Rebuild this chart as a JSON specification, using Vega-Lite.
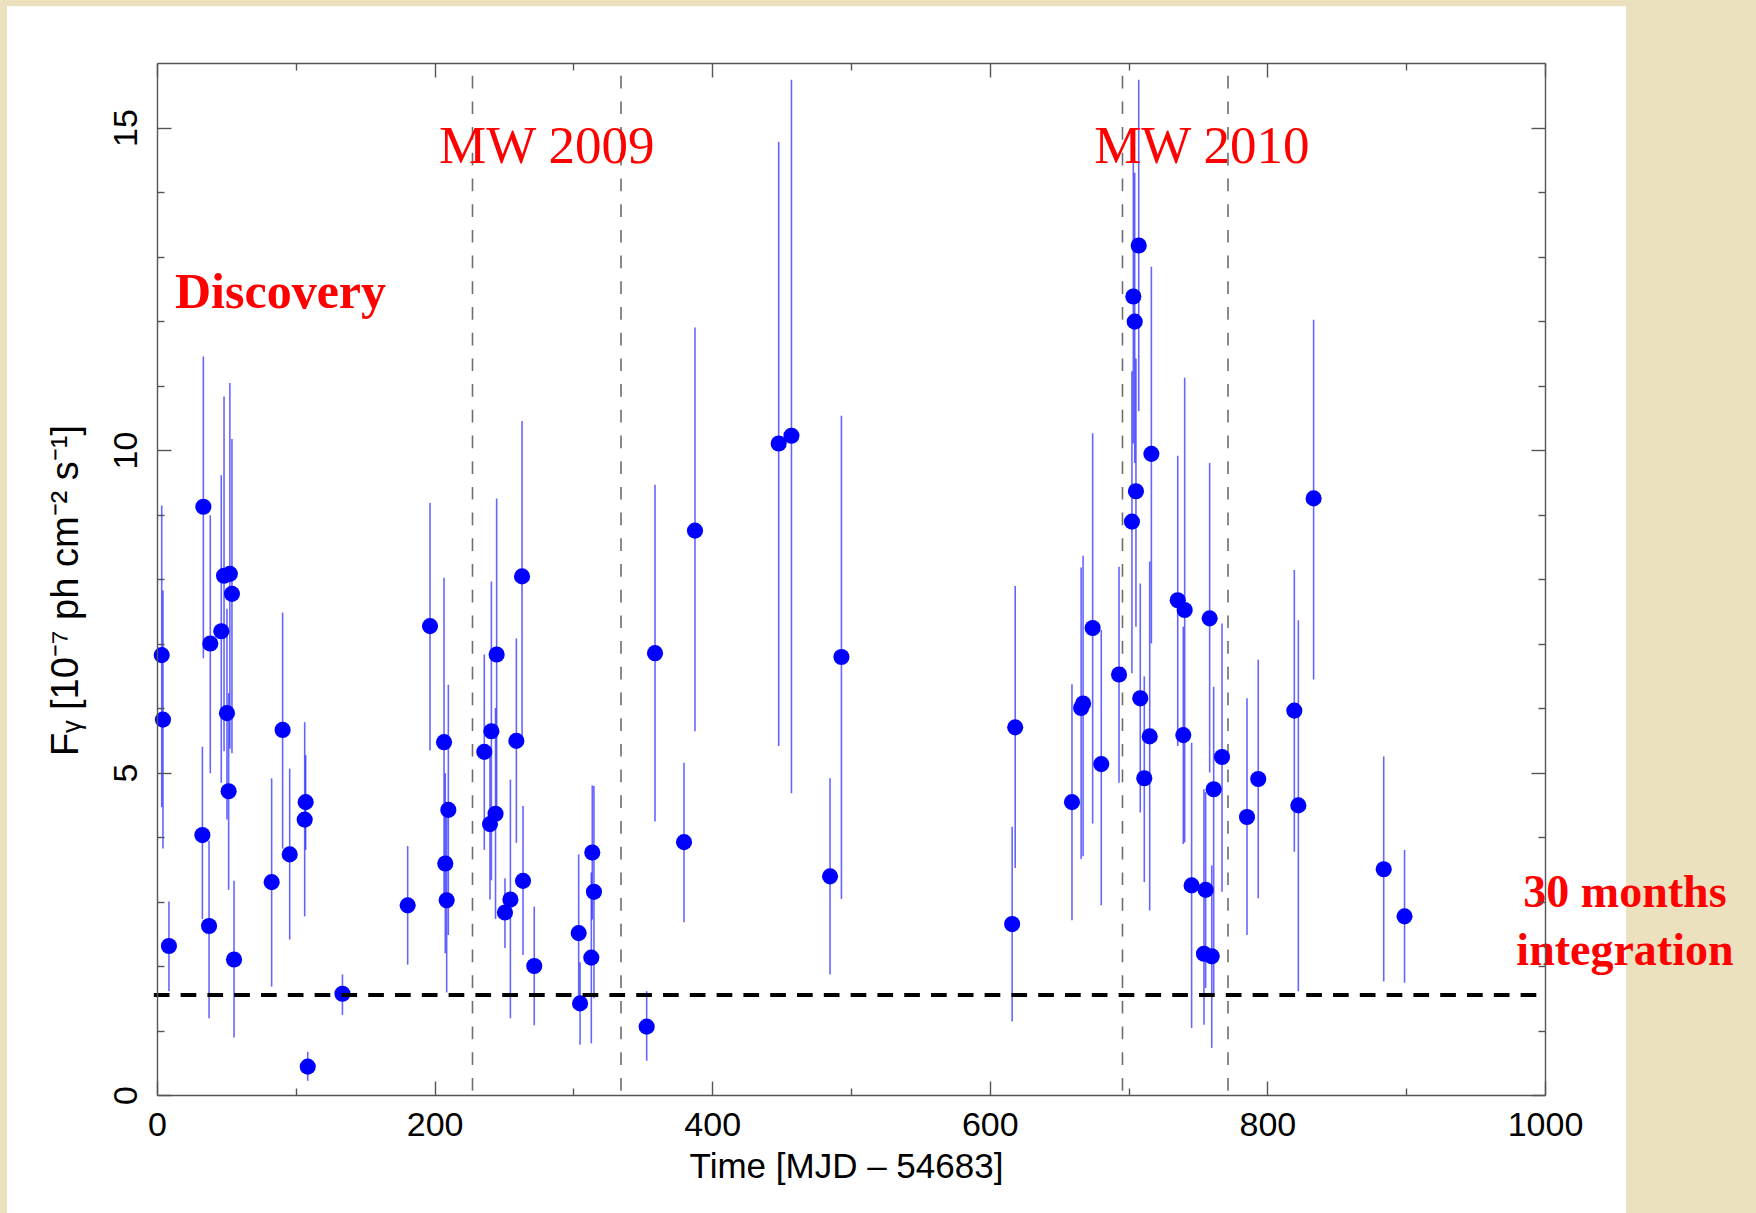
{
  "$schema": "https://vega.github.io/schema/vega-lite/v6.json",
  "width": 1388,
  "height": 1032,
  "autosize": {"type": "none"},
  "padding": {"left": 157, "top": 63, "right": 211, "bottom": 118},
  "background": "#ECE1BE",
  "config": {
    "view": {"stroke": null},
    "axis": {
      "grid": false,
      "domainColor": "#555555",
      "domainWidth": 1.4,
      "tickColor": "#555555",
      "tickWidth": 1.4,
      "labelFont": "Liberation Sans",
      "labelColor": "#000000",
      "titleFont": "Liberation Sans",
      "titleColor": "#000000",
      "titleFontWeight": "normal",
      "labelFlush": false,
      "labelOverlap": false
    }
  },
  "datasets": {
    "flux": [
      {"t": 3.4, "flux": 6.82, "flux_lo": 4.46, "flux_hi": 9.14},
      {"t": 4.3, "flux": 5.82, "flux_lo": 3.82, "flux_hi": 7.82},
      {"t": 8.6, "flux": 2.31, "flux_lo": 1.61, "flux_hi": 3.0},
      {"t": 33.4, "flux": 9.12, "flux_lo": 6.77, "flux_hi": 11.45},
      {"t": 32.7, "flux": 4.03, "flux_lo": 2.73, "flux_hi": 5.4},
      {"t": 38.4, "flux": 7.0, "flux_lo": 4.99, "flux_hi": 8.99},
      {"t": 37.5, "flux": 2.62, "flux_lo": 1.19, "flux_hi": 3.94},
      {"t": 46.3, "flux": 7.19, "flux_lo": 4.84, "flux_hi": 9.61},
      {"t": 48.3, "flux": 8.05, "flux_lo": 5.33, "flux_hi": 10.83},
      {"t": 52.5, "flux": 8.08, "flux_lo": 5.37, "flux_hi": 11.04},
      {"t": 54.0, "flux": 7.77, "flux_lo": 5.3, "flux_hi": 10.17},
      {"t": 50.4, "flux": 5.92, "flux_lo": 4.27, "flux_hi": 7.54},
      {"t": 51.6, "flux": 4.71, "flux_lo": 3.18, "flux_hi": 6.23},
      {"t": 55.5, "flux": 2.1, "flux_lo": 0.89, "flux_hi": 3.32},
      {"t": 82.6, "flux": 3.3, "flux_lo": 1.68, "flux_hi": 4.91},
      {"t": 90.5, "flux": 5.66, "flux_lo": 3.82, "flux_hi": 7.48},
      {"t": 95.6, "flux": 3.73, "flux_lo": 2.41, "flux_hi": 5.06},
      {"t": 107.1, "flux": 4.54, "flux_lo": 3.8, "flux_hi": 5.27},
      {"t": 106.4, "flux": 4.27, "flux_lo": 2.77, "flux_hi": 5.78},
      {"t": 108.6, "flux": 0.44, "flux_lo": 0.22, "flux_hi": 0.67},
      {"t": 133.6, "flux": 1.57, "flux_lo": 1.24, "flux_hi": 1.87},
      {"t": 180.6, "flux": 2.94, "flux_lo": 2.02, "flux_hi": 3.86},
      {"t": 196.7, "flux": 7.27, "flux_lo": 5.34, "flux_hi": 9.18},
      {"t": 206.8, "flux": 5.47, "flux_lo": 3.1, "flux_hi": 8.02},
      {"t": 209.9, "flux": 4.42, "flux_lo": 2.48, "flux_hi": 6.36},
      {"t": 207.7, "flux": 3.59, "flux_lo": 2.2, "flux_hi": 4.99},
      {"t": 208.7, "flux": 3.02, "flux_lo": 1.59, "flux_hi": 4.54},
      {"t": 235.8, "flux": 5.32, "flux_lo": 3.8, "flux_hi": 6.83},
      {"t": 240.9, "flux": 5.64, "flux_lo": 3.33, "flux_hi": 7.96},
      {"t": 244.7, "flux": 6.83, "flux_lo": 4.35, "flux_hi": 9.25},
      {"t": 243.9, "flux": 4.36, "flux_lo": 2.73, "flux_hi": 6.0},
      {"t": 239.9, "flux": 4.2, "flux_lo": 3.03, "flux_hi": 5.4},
      {"t": 263.0, "flux": 8.04, "flux_lo": 5.51, "flux_hi": 10.45},
      {"t": 258.9, "flux": 5.49, "flux_lo": 3.91, "flux_hi": 7.08},
      {"t": 254.6, "flux": 3.03, "flux_lo": 1.19, "flux_hi": 4.89},
      {"t": 250.7, "flux": 2.83, "flux_lo": 2.28, "flux_hi": 3.36},
      {"t": 263.7, "flux": 3.32, "flux_lo": 2.17, "flux_hi": 4.48},
      {"t": 271.8, "flux": 2.0, "flux_lo": 1.08, "flux_hi": 2.92},
      {"t": 303.8, "flux": 2.51, "flux_lo": 1.3, "flux_hi": 3.73},
      {"t": 304.8, "flux": 1.42, "flux_lo": 0.78, "flux_hi": 2.06},
      {"t": 313.6, "flux": 3.76, "flux_lo": 2.72, "flux_hi": 4.8},
      {"t": 314.8, "flux": 3.15, "flux_lo": 1.5, "flux_hi": 4.79},
      {"t": 312.9, "flux": 2.13, "flux_lo": 0.8, "flux_hi": 3.45},
      {"t": 352.8, "flux": 1.06, "flux_lo": 0.53, "flux_hi": 1.61},
      {"t": 358.8, "flux": 6.85, "flux_lo": 4.24, "flux_hi": 9.46},
      {"t": 379.7, "flux": 3.92, "flux_lo": 2.68, "flux_hi": 5.15},
      {"t": 387.6, "flux": 8.75, "flux_lo": 5.64, "flux_hi": 11.9},
      {"t": 447.9, "flux": 10.1, "flux_lo": 5.41, "flux_hi": 14.78},
      {"t": 457.1, "flux": 10.22, "flux_lo": 4.68, "flux_hi": 15.74},
      {"t": 484.9, "flux": 3.39, "flux_lo": 1.87, "flux_hi": 4.91},
      {"t": 493.1, "flux": 6.79, "flux_lo": 3.04, "flux_hi": 10.53},
      {"t": 616.1, "flux": 2.65, "flux_lo": 1.14, "flux_hi": 4.16},
      {"t": 618.3, "flux": 5.7, "flux_lo": 3.52, "flux_hi": 7.89},
      {"t": 659.2, "flux": 4.54, "flux_lo": 2.71, "flux_hi": 6.37},
      {"t": 665.8, "flux": 6.0, "flux_lo": 3.66, "flux_hi": 8.18},
      {"t": 667.2, "flux": 6.07, "flux_lo": 3.7, "flux_hi": 8.36},
      {"t": 674.1, "flux": 7.24, "flux_lo": 4.21, "flux_hi": 10.26},
      {"t": 680.3, "flux": 5.13, "flux_lo": 2.94, "flux_hi": 7.21},
      {"t": 693.1, "flux": 6.52, "flux_lo": 4.84, "flux_hi": 8.19},
      {"t": 702.4, "flux": 8.89, "flux_lo": 6.54, "flux_hi": 11.22},
      {"t": 705.3, "flux": 9.36, "flux_lo": 7.26, "flux_hi": 11.42},
      {"t": 703.4, "flux": 12.38, "flux_lo": 10.1, "flux_hi": 14.8},
      {"t": 704.4, "flux": 11.99, "flux_lo": 9.8, "flux_hi": 14.3},
      {"t": 707.3, "flux": 13.17, "flux_lo": 10.6, "flux_hi": 15.74},
      {"t": 708.4, "flux": 6.15, "flux_lo": 4.38, "flux_hi": 7.93},
      {"t": 711.3, "flux": 4.91, "flux_lo": 3.3, "flux_hi": 6.49},
      {"t": 715.2, "flux": 5.56, "flux_lo": 2.86, "flux_hi": 8.27},
      {"t": 716.4, "flux": 9.94, "flux_lo": 7.0, "flux_hi": 12.84},
      {"t": 735.4, "flux": 7.67, "flux_lo": 5.41, "flux_hi": 9.91},
      {"t": 740.4, "flux": 7.52, "flux_lo": 3.92, "flux_hi": 11.12},
      {"t": 739.4, "flux": 5.58, "flux_lo": 3.89, "flux_hi": 7.26},
      {"t": 745.4, "flux": 3.25, "flux_lo": 1.04, "flux_hi": 5.46},
      {"t": 758.4, "flux": 7.39, "flux_lo": 5.0, "flux_hi": 9.8},
      {"t": 755.5, "flux": 3.18, "flux_lo": 1.66, "flux_hi": 4.7},
      {"t": 754.3, "flux": 2.19, "flux_lo": 1.09, "flux_hi": 4.74},
      {"t": 759.9, "flux": 2.15, "flux_lo": 0.73, "flux_hi": 3.56},
      {"t": 761.3, "flux": 4.74, "flux_lo": 1.55, "flux_hi": 6.33},
      {"t": 767.3, "flux": 5.24, "flux_lo": 3.15, "flux_hi": 7.31},
      {"t": 785.3, "flux": 4.31, "flux_lo": 2.48, "flux_hi": 6.15},
      {"t": 793.4, "flux": 4.9, "flux_lo": 3.05, "flux_hi": 6.75},
      {"t": 819.4, "flux": 5.96, "flux_lo": 3.77, "flux_hi": 8.14},
      {"t": 822.3, "flux": 4.49, "flux_lo": 1.61, "flux_hi": 7.36},
      {"t": 833.3, "flux": 9.25, "flux_lo": 6.44, "flux_hi": 12.02},
      {"t": 883.8, "flux": 3.5, "flux_lo": 1.76, "flux_hi": 5.25},
      {"t": 898.8, "flux": 2.77, "flux_lo": 1.74, "flux_hi": 3.8}
    ],
    "campaign_edges": [
      {"t": 227.3},
      {"t": 334.3},
      {"t": 695.6},
      {"t": 771.6}
    ]
  },
  "resolve": {"axis": {"x": "independent", "y": "independent"}},
  "layer": [
    {
      "description": "white slide panel behind the plot",
      "data": {"values": [{}]},
      "mark": {"type": "rect", "color": "#ffffff"},
      "encoding": {
        "x": {"datum": -108.1, "type": "quantitative", "scale": {"domain": [0, 1000], "nice": false, "zero": false}, "axis": null},
        "x2": {"datum": 1058.4},
        "y": {"datum": -1.83, "type": "quantitative", "scale": {"domain": [0, 16], "nice": false, "zero": false}, "axis": null},
        "y2": {"datum": 16.88}
      }
    },
    {
      "description": "multiwavelength campaign boundaries",
      "data": {"name": "campaign_edges"},
      "mark": {"type": "rule", "color": "#6e6e6e", "strokeWidth": 1.6, "strokeDash": [12.7, 13], "strokeDashOffset": 13},
      "encoding": {
        "x": {
          "field": "t", "type": "quantitative",
          "scale": {"domain": [0, 1000], "nice": false, "zero": false},
          "axis": {
            "zindex": 1,
            "orient": "bottom",
            "values": [0, 200, 400, 600, 800, 1000],
            "format": "d",
            "tickSize": -14,
            "labelFontSize": 34,
            "labelPadding": 27,
            "title": "Time [MJD – 54683]",
            "titleFontSize": 35,
            "titleBaseline": "alphabetic",
            "titleAlign": "center",
            "titleX": 689,
            "titleY": 82
          }
        },
        "y": {
          "datum": 16, "type": "quantitative",
          "scale": {"domain": [0, 16], "nice": false, "zero": false},
          "axis": {
            "zindex": 1,
            "orient": "left",
            "values": [0, 5, 10, 15],
            "format": "d",
            "tickSize": -14,
            "labelFontSize": 34,
            "labelAngle": -90,
            "labelAlign": "center",
            "labelBaseline": "alphabetic",
            "labelPadding": 35,
            "title": "Fᵧ [10⁻⁷ ph cm⁻² s⁻¹]",
            "titleFontSize": 38,
            "titleAngle": -90,
            "titleAlign": "center",
            "titleBaseline": "alphabetic",
            "titleX": -80,
            "titleY": 527
          }
        },
        "y2": {"datum": 0}
      }
    },
    {
      "description": "flux uncertainties",
      "data": {"name": "flux"},
      "mark": {"type": "rule", "color": "#0000ff", "opacity": 0.6, "strokeWidth": 1.6},
      "encoding": {
        "x": {
          "field": "t", "type": "quantitative",
          "scale": {"domain": [0, 1000], "nice": false, "zero": false},
          "axis": {"zindex": 1, "orient": "bottom", "values": [100, 300, 500, 700, 900], "tickSize": -7, "labels": false, "domain": false, "title": null}
        },
        "y": {
          "field": "flux_lo", "type": "quantitative",
          "scale": {"domain": [0, 16], "nice": false, "zero": false},
          "axis": {"zindex": 1, "orient": "left", "values": [1, 2, 3, 4, 6, 7, 8, 9, 11, 12, 13, 14], "tickSize": -7, "labels": false, "domain": false, "title": null}
        },
        "y2": {"field": "flux_hi"}
      }
    },
    {
      "description": "weekly flux points",
      "data": {"name": "flux"},
      "mark": {"type": "circle", "color": "#0000ff", "opacity": 1, "size": 260},
      "encoding": {
        "x": {
          "field": "t", "type": "quantitative",
          "scale": {"domain": [0, 1000], "nice": false, "zero": false},
          "axis": {"zindex": 1, "orient": "top", "values": [0, 200, 400, 600, 800, 1000], "tickSize": -14, "labels": false, "title": null}
        },
        "y": {
          "field": "flux", "type": "quantitative",
          "scale": {"domain": [0, 16], "nice": false, "zero": false},
          "axis": {"zindex": 1, "orient": "right", "values": [0, 5, 10, 15], "tickSize": -14, "labels": false, "title": null}
        }
      }
    },
    {
      "description": "minor ticks on the top and right edges",
      "data": {"name": "flux"},
      "mark": {"type": "circle", "opacity": 0},
      "encoding": {
        "x": {
          "field": "t", "type": "quantitative",
          "scale": {"domain": [0, 1000], "nice": false, "zero": false},
          "axis": {"zindex": 1, "orient": "top", "values": [100, 300, 500, 700, 900], "tickSize": -7, "labels": false, "domain": false, "title": null}
        },
        "y": {
          "field": "flux", "type": "quantitative",
          "scale": {"domain": [0, 16], "nice": false, "zero": false},
          "axis": {"zindex": 1, "orient": "right", "values": [1, 2, 3, 4, 6, 7, 8, 9, 11, 12, 13, 14], "tickSize": -7, "labels": false, "domain": false, "title": null}
        }
      }
    },
    {
      "description": "30-month integrated flux level",
      "data": {"values": [{}]},
      "mark": {"type": "rule", "color": "#000000", "strokeWidth": 4, "strokeDash": [15.7, 11.1]},
      "encoding": {
        "x": {"datum": -2.3, "type": "quantitative", "scale": {"domain": [0, 1000], "nice": false, "zero": false}, "axis": null},
        "x2": {"datum": 994},
        "y": {"datum": 1.55, "type": "quantitative", "scale": {"domain": [0, 16], "nice": false, "zero": false}, "axis": null}
      }
    },
    {
      "data": {"values": [{}]},
      "mark": {"type": "text", "text": "Discovery", "font": "Liberation Serif", "fontSize": 50, "fontWeight": "bold", "color": "#ff0000", "align": "center", "baseline": "alphabetic"},
      "encoding": {
        "x": {"datum": 89, "type": "quantitative", "scale": {"domain": [0, 1000], "nice": false, "zero": false}, "axis": null},
        "y": {"datum": 12.2, "type": "quantitative", "scale": {"domain": [0, 16], "nice": false, "zero": false}, "axis": null}
      }
    },
    {
      "data": {"values": [{}]},
      "mark": {"type": "text", "text": "MW 2009", "font": "Liberation Serif", "fontSize": 53, "color": "#ff0000", "align": "center", "baseline": "alphabetic"},
      "encoding": {
        "x": {"datum": 280.8, "type": "quantitative", "scale": {"domain": [0, 1000], "nice": false, "zero": false}, "axis": null},
        "y": {"datum": 14.45, "type": "quantitative", "scale": {"domain": [0, 16], "nice": false, "zero": false}, "axis": null}
      }
    },
    {
      "data": {"values": [{}]},
      "mark": {"type": "text", "text": "MW 2010", "font": "Liberation Serif", "fontSize": 53, "color": "#ff0000", "align": "center", "baseline": "alphabetic"},
      "encoding": {
        "x": {"datum": 752.8, "type": "quantitative", "scale": {"domain": [0, 1000], "nice": false, "zero": false}, "axis": null},
        "y": {"datum": 14.45, "type": "quantitative", "scale": {"domain": [0, 16], "nice": false, "zero": false}, "axis": null}
      }
    },
    {
      "data": {"values": [{}]},
      "mark": {"type": "text", "text": ["30 months", "integration"], "lineHeight": 58, "font": "Liberation Serif", "fontSize": 46, "fontWeight": "bold", "color": "#ff0000", "align": "center", "baseline": "alphabetic"},
      "encoding": {
        "x": {"datum": 1057.6, "type": "quantitative", "scale": {"domain": [0, 1000], "nice": false, "zero": false}, "axis": null},
        "y": {"datum": 2.915, "type": "quantitative", "scale": {"domain": [0, 16], "nice": false, "zero": false}, "axis": null}
      }
    }
  ]
}
